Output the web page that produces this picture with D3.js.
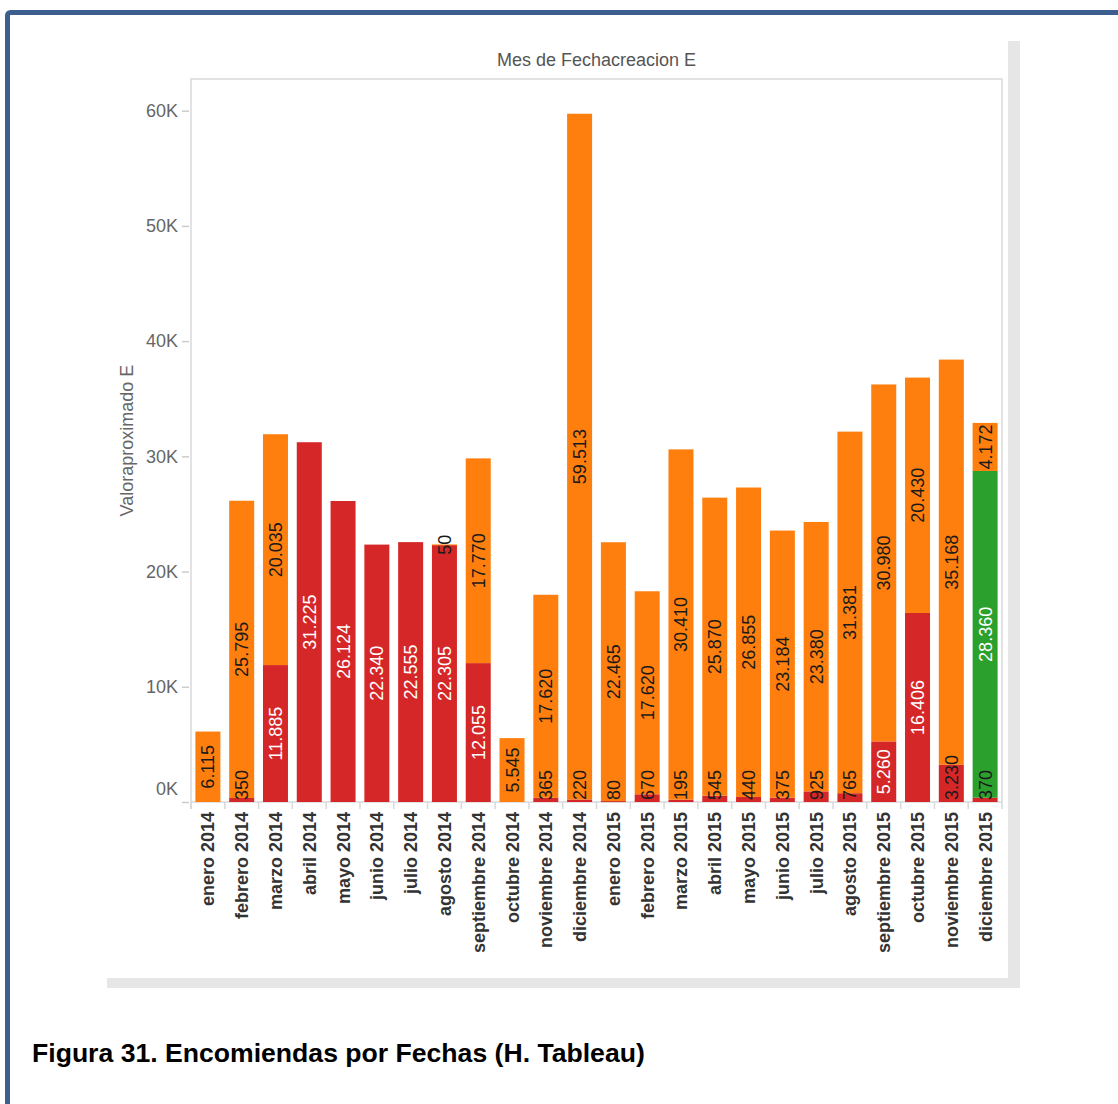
<!DOCTYPE html>
<html>
<head>
<meta charset="utf-8">
<script src="https://cdn.jsdelivr.net/npm/d3@7"></script>
<style>
  body { margin: 0; background: #fff; }
  svg { display: block; font-family: "Liberation Sans", Arial, sans-serif; }
</style>
</head>
<body>
<svg id="chart" width="1118" height="1104"></svg>
<script>
// datos
const meses = [
  "enero 2014", "febrero 2014", "marzo 2014", "abril 2014", "mayo 2014", "junio 2014",
  "julio 2014", "agosto 2014", "septiembre 2014", "octubre 2014", "noviembre 2014", "diciembre 2014",
  "enero 2015", "febrero 2015", "marzo 2015", "abril 2015", "mayo 2015", "junio 2015",
  "julio 2015", "agosto 2015", "septiembre 2015", "octubre 2015", "noviembre 2015", "diciembre 2015"
];
const valoresRojo = [0, 350, 11885, 31225, 26124, 22340, 22555, 22305, 12055, 0, 365, 220,
                     80, 670, 195, 545, 440, 375, 925, 765, 5260, 16406, 3230, 370];
const valoresVerde = [0, 0, 0, 0, 0, 0, 0, 0, 0, 0, 0, 0,
                      0, 0, 0, 0, 0, 0, 0, 0, 0, 0, 0, 28360];
const valoresNaranja = [6115, 25795, 20035, 0, 0, 0, 0, 50, 17770, 5545, 17620, 59513,
                        22465, 17620, 30410, 25870, 26855, 23184, 23380, 31381, 30980, 20430, 35168, 4172];
const ticksY = [0, 10000, 20000, 30000, 40000, 50000, 60000];

const series = [
  { key: "rojo", color: "#d62728", labelColor: "#ffffff", values: valoresRojo },
  { key: "verde", color: "#2ca02c", labelColor: "#ffffff", values: valoresVerde },
  { key: "naranja", color: "#ff7f0e", labelColor: "#1a1a1a", values: valoresNaranja }
];

const svg = d3.select("#chart");
const plot = { left: 191, right: 1002, top: 79, bottom: 802 };

const es = d3.formatLocale({ decimal: ",", thousands: ".", grouping: [3], currency: ["", "€"] });
const fmt = es.format(",d");

// marco azul del documento
svg.append("rect")
  .attr("x", 7.5).attr("y", 12.5)
  .attr("width", 1300).attr("height", 1300)
  .attr("rx", 3)
  .attr("fill", "none")
  .attr("stroke", "#3c5f8f")
  .attr("stroke-width", 5);

// sombra del panel de Tableau
svg.append("rect").attr("x", 1008).attr("y", 41).attr("width", 12).attr("height", 947).attr("fill", "#e6e6e6");
svg.append("rect").attr("x", 107).attr("y", 978).attr("width", 913).attr("height", 10).attr("fill", "#e6e6e6");

const x = d3.scaleBand()
  .domain(meses)
  .range([plot.left, plot.right])
  .paddingInner(0.26)
  .paddingOuter(0.13);

const y = d3.scaleLinear()
  .domain([0, 62750])
  .range([plot.bottom, plot.top]);

// marco del area de grafico
svg.append("path")
  .attr("d", `M${plot.left},${plot.bottom + 7}V${plot.top}H${plot.right}V${plot.bottom + 7}`)
  .attr("fill", "none")
  .attr("stroke", "#d9d9d9")
  .attr("stroke-width", 1.5);
svg.append("line")
  .attr("x1", plot.left).attr("x2", plot.right)
  .attr("y1", plot.bottom).attr("y2", plot.bottom)
  .attr("stroke", "#d9d9d9").attr("stroke-width", 1.5);

// ticks del eje x en los limites de cada banda
const step = x.step();
svg.append("g").selectAll("line")
  .data(meses)
  .join("line")
  .attr("x1", d => x(d) - step * x.paddingInner() / 2)
  .attr("x2", d => x(d) - step * x.paddingInner() / 2)
  .attr("y1", plot.bottom)
  .attr("y2", plot.bottom + 7)
  .attr("stroke", "#d9d9d9")
  .attr("stroke-width", 1.5);

// eje y
const yAxis = svg.append("g")
  .attr("transform", `translate(${plot.left - 2},0)`)
  .call(d3.axisLeft(y).tickValues(ticksY).tickSize(7).tickPadding(4).tickFormat(d => (d / 1000) + "K"));
yAxis.select(".domain").remove();
yAxis.selectAll(".tick line").attr("stroke", "#cccccc").attr("stroke-width", 1.5);
yAxis.selectAll(".tick text")
  .attr("fill", "#666")
  .style("font-size", "18px")
  .style("font-family", "'Liberation Sans', Arial, sans-serif")
  .attr("dy", d => d === 0 ? "-0.4em" : "0.32em");

// titulo del eje y
svg.append("text")
  .attr("transform", `translate(133,${(plot.top + plot.bottom) / 2}) rotate(-90)`)
  .attr("text-anchor", "middle")
  .attr("fill", "#666")
  .style("font-size", "18px")
  .text("Valoraproximado E");

// titulo superior
svg.append("text")
  .attr("x", (plot.left + plot.right) / 2)
  .attr("y", 66)
  .attr("text-anchor", "middle")
  .attr("fill", "#555")
  .style("font-size", "18px")
  .text("Mes de Fechacreacion E");

// segmentos apilados
const segmentos = [];
meses.forEach((m, i) => {
  let base = 0;
  series.forEach(s => {
    const v = s.values[i];
    if (v > 0) {
      segmentos.push({ mes: m, serie: s, v, y0: base, y1: base + v });
      base += v;
    }
  });
});

svg.append("g").selectAll("rect")
  .data(segmentos)
  .join("rect")
  .attr("x", d => x(d.mes))
  .attr("width", x.bandwidth())
  .attr("y", d => y(d.y1))
  .attr("height", d => Math.max(1, y(d.y0) - y(d.y1)))
  .attr("fill", d => d.serie.color);

// etiquetas de valor: centradas en el segmento, sin bajar de la linea base
const cx = d => x(d.mes) + x.bandwidth() / 2 + 6.5;
const etiquetas = svg.append("g").selectAll("text")
  .data(segmentos)
  .join("text")
  .attr("text-anchor", "middle")
  .style("font-size", "18px")
  .text(d => fmt(d.v));

etiquetas.each(function (d) {
  const len = this.getComputedTextLength();
  const h = y(d.y0) - y(d.y1);
  let cy = (y(d.y0) + y(d.y1)) / 2;
  cy = Math.min(cy, plot.bottom - 2 - len / 2);
  d3.select(this)
    .attr("transform", `translate(${cx(d)},${cy}) rotate(-90)`)
    .attr("fill", len + 6 > h ? "#1a1a1a" : d.serie.labelColor);
});

// etiquetas de meses
svg.append("g").selectAll("text")
  .data(meses)
  .join("text")
  .attr("transform", d => `translate(${x(d) + x.bandwidth() / 2 + 6.5},${plot.bottom + 10}) rotate(-90)`)
  .attr("text-anchor", "end")
  .attr("fill", "#333")
  .style("font-size", "18px")
  .style("font-weight", "bold")
  .text(d => d);

// pie de figura
svg.append("text")
  .attr("x", 32)
  .attr("y", 1062)
  .attr("fill", "#000")
  .style("font-size", "26.6px")
  .style("font-weight", "bold")
  .text("Figura 31. Encomiendas por Fechas (H. Tableau)");
</script>
</body>
</html>
